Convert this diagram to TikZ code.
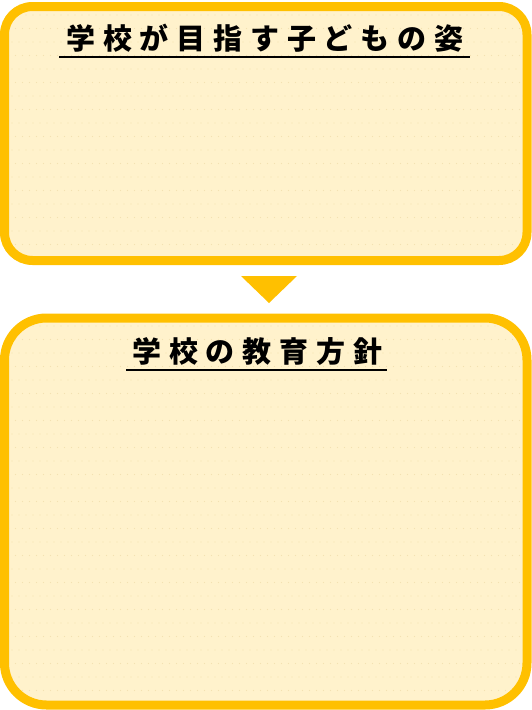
\documentclass[tikz,border=0pt]{standalone}
\usepackage{fontspec}
\newfontfamily\jpfont[LetterSpace=27]{Noto Sans CJK JP}
\definecolor{frame}{HTML}{FFC000}
\definecolor{paper}{HTML}{FFF2CC}
\definecolor{dotc}{HTML}{F3E1B2}
\begin{document}
\begin{tikzpicture}[x=1pt,y=-1pt,
  boxfill/.style={fill=paper},
  boxline/.style={draw=frame,line width=9pt},
  title/.style={font=\jpfont\bfseries\fontsize{29}{29}\selectfont,inner sep=0pt,anchor=west},
  uline/.style={line width=2.2pt,black}]
\useasboundingbox (0,0) rectangle (532,710);
% top box
\fill[boxfill,rounded corners=28pt] (4.5,6.5) rectangle (527,260.5);
\begin{scope}
\clip[rounded corners=24pt] (9,11) rectangle (522.5,256);
\foreach \r in {0,...,18}{
  \pgfmathsetmacro{\yy}{15+13.5*\r}
  \pgfmathsetmacro{\xo}{mod(\r,2)*3.5}
  \foreach \c in {0,...,74}{
    \fill[dotc] ({5+\xo+7*\c},\yy) circle (0.6pt);
  }
}
\end{scope}
\node[boxline,rounded corners=28pt,minimum width=522.5pt,minimum height=254pt,inner sep=0pt] (topbox) at (265.75,133.5) {};
% bottom box
\fill[boxfill,rounded corners=42pt] (4.5,318) rectangle (527,705);
\begin{scope}
\clip[rounded corners=38pt] (9,322.5) rectangle (522.5,700.5);
\foreach \r in {0,...,28}{
  \pgfmathsetmacro{\yy}{326+13.5*\r}
  \pgfmathsetmacro{\xo}{mod(\r,2)*3.5}
  \foreach \c in {0,...,74}{
    \fill[dotc] ({5+\xo+7*\c},\yy) circle (0.6pt);
  }
}
\end{scope}
\node[boxline,rounded corners=42pt,minimum width=522.5pt,minimum height=387pt,inner sep=0pt] (botbox) at (265.75,511.5) {};
% arrow triangle
\coordinate (tl) at (241,276);
\coordinate (tr) at (297,276);
\coordinate (tb) at (269,303);
\fill[frame] (tl) -- (tr) -- (tb) -- cycle;
% titles
\node[title] (t1) at (66,38.5) {学校が目指す子どもの姿};
\coordinate (u1a) at (59,57);
\coordinate (u1b) at (470,57);
\draw[uline] (u1a) -- (u1b);
\node[title] (t2) at (132,351.5) {学校の教育方針};
\coordinate (u2a) at (126,370);
\coordinate (u2b) at (387,370);
\draw[uline] (u2a) -- (u2b);
\end{tikzpicture}
\end{document}
